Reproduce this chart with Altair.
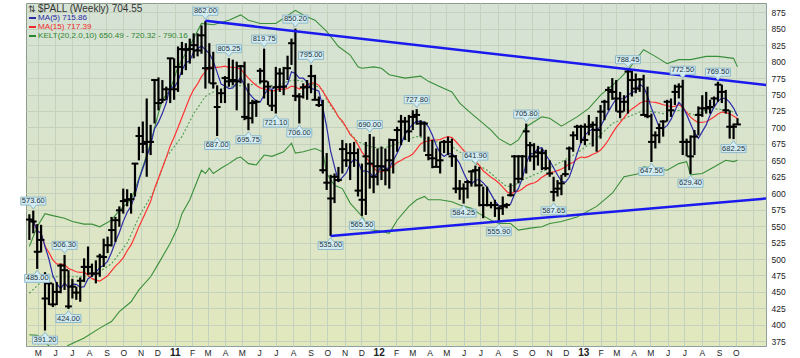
import altair as alt
import pandas as pd

# ---------------- data ----------------
START = "2010-04-16"          # first weekly bar
high = [
    568, 573.6, 553, 552, 480, 465, 463, 465, 493, 506.3,
    483, 470, 458, 472, 501, 519, 493, 498, 508, 531,
    534, 564, 564, 580, 607, 606, 600, 646, 701, 709,
    744, 704, 773, 776, 772, 762, 805, 805, 823, 830,
    828, 835, 843, 843, 855, 862, 828, 815, 764, 759,
    778, 805.25, 803, 800, 795, 800, 767, 742, 742, 790,
    819.75, 770, 757, 792, 790, 792, 809, 835, 850.2, 752,
    767, 772, 795, 780, 747, 742, 661, 628, 630, 640,
    681, 676, 676, 678, 668, 645, 678, 690, 686, 668,
    671, 668, 683, 681, 701, 719, 716, 719, 726, 727.8,
    711, 709, 686, 681, 668, 678, 681, 686, 683, 658,
    620, 615, 620, 635, 641.9, 640, 610, 610, 587, 590,
    580, 595, 585, 615, 658, 658, 658, 705.8, 678, 676,
    672, 668, 666, 650, 625, 620, 628, 650, 671, 694,
    704, 704, 706, 719, 709, 716, 734, 742, 762, 775,
    772, 754, 749, 788.45, 787, 782, 775, 780, 762, 721,
    694, 706, 711, 742, 744, 765, 767, 772.5, 683, 688,
    696, 732, 749, 754, 742, 747, 769.5, 765, 757, 726,
    706, 714,
]
low = [
    529, 539, 485, 510, 391.2, 430, 427, 430, 448, 453,
    424, 440, 438, 435, 465, 476, 473, 463, 473, 488,
    509, 519, 526, 549, 569, 580, 569, 595, 650, 661,
    625, 658, 706, 726, 737, 742, 737, 742, 754, 780,
    787, 797, 805, 808, 812, 759, 767, 759, 687, 737,
    737, 762, 764, 726, 767, 711, 695.75, 706, 716, 767,
    744, 734, 725, 721.1, 754, 749, 772, 795, 740, 706,
    744, 742, 752, 742, 731, 630, 605, 535, 585, 617,
    630, 640, 620, 640, 595, 565.5, 567, 607, 600, 612,
    620, 612, 607, 630, 663, 673, 681, 678, 696, 704,
    686, 663, 650, 638, 640, 630, 661, 658, 640, 600,
    590, 584.25, 592, 610, 610, 580, 562, 580, 577, 564,
    555.9, 567, 577, 595, 602, 615, 620, 630, 648, 635,
    642, 635, 635, 625, 587.65, 595, 597, 625, 635, 663,
    681, 676, 673, 688, 671, 663, 683, 711, 726, 742,
    724, 714, 724, 721, 747, 752, 754, 719, 714, 647.5,
    668, 676, 686, 709, 716, 734, 744, 658, 656, 629.4,
    658, 688, 716, 721, 721, 732, 739, 737, 721, 683,
    682.25, 704,
]
close = [
    560, 557, 511, 529, 440, 463, 431, 450, 490, 483,
    428, 458, 449, 467, 488, 488, 478, 478, 504, 503,
    521, 544, 559, 574, 588, 590, 591, 645, 687, 675,
    678, 678, 772, 737, 742, 758, 805, 758, 792, 819,
    818, 819, 825, 817, 840, 790, 790, 767, 731, 752,
    775, 770, 772, 770, 793, 716, 714, 737, 739, 786,
    770, 762, 733, 761, 782, 762, 790, 828, 748, 747,
    761, 761, 778, 742, 734, 635, 616, 592, 625, 620,
    667, 650, 661, 661, 604, 590, 656, 645, 625, 641,
    641, 635, 650, 681, 696, 709, 709, 694, 716, 719,
    706, 706, 658, 653, 640, 650, 678, 678, 656, 607,
    607, 607, 617, 633, 635, 612, 582, 582, 582, 582,
    577, 580, 582, 597, 656, 622, 656, 694, 673, 656,
    662, 661, 638, 630, 602, 607, 615, 629, 668, 688,
    701, 701, 681, 701, 704, 696, 724, 739, 757, 754,
    744, 724, 739, 785, 772, 759, 773, 719, 717, 678,
    688, 699, 709, 739, 726, 754, 762, 678, 678, 656,
    686, 719, 729, 729, 731, 744, 765, 754, 726, 701,
    701, 704.55,
]
assert len(high) == len(low) == len(close)

# Keltner channel (week number, price)
kelt_up_week = [0, 2, 4, 6, 9, 11, 14, 16, 18, 21, 23, 26, 27, 29, 31, 33, 34, 36, 38, 40,
                42, 44, 47, 51, 54, 56, 59, 63, 65, 68, 70, 73, 76, 79, 82, 84, 85, 88, 90, 92,
                96, 100, 102, 105, 108, 110, 113, 115, 118, 120, 123, 125, 127, 131, 133, 136, 140, 143, 146, 149,
                151, 153, 157, 160, 163, 166, 169, 173, 176, 180, 181]
kelt_up = [519, 549, 569, 566, 562, 557, 553, 553, 549, 559, 574, 590, 605, 640, 676, 722, 742, 757, 792, 813,
           835, 858, 856, 863, 871, 863, 858, 858, 866, 878, 871, 863, 846, 823, 810, 792, 790, 792, 790, 780,
           775, 778, 770, 762, 754, 737, 721, 711, 696, 683, 673, 681, 701, 716, 714, 702, 716, 729, 749, 764,
           775, 787, 818, 808, 797, 803, 803, 808, 808, 805, 792]
kelt_lo_week = [0, 2, 3, 5, 7, 9, 10, 14, 18, 21, 23, 26, 28, 31, 33, 36, 38, 39, 41, 43,
                44, 45, 46, 47, 49, 51, 53, 54, 56, 58, 60, 62, 65, 67, 68, 70, 73, 75, 76, 78,
                80, 82, 85, 87, 90, 92, 94, 97, 99, 101, 102, 105, 108, 110, 113, 115, 118, 120, 123, 125,
                128, 131, 133, 136, 140, 145, 149, 152, 156, 157, 160, 163, 166, 168, 169, 172, 175, 178, 180, 181]
kelt_lo = [385, 384, 380, 368, 362, 364, 369, 380, 395, 405, 420, 435, 453, 473, 493, 524, 549, 569, 590, 620,
           635, 630, 638, 630, 638, 645, 653, 655, 645, 643, 658, 656, 663, 676, 661, 663, 668, 663, 630, 612,
           607, 585, 565, 545, 542, 539, 559, 580, 590, 595, 590, 590, 587, 582, 577, 569, 559, 554, 554, 544,
           547, 549, 554, 557, 564, 580, 600, 625, 630, 640, 638, 635, 645, 648, 628, 630, 640, 650, 648, 650]
kelt_mid_week = [0, 3, 6, 15, 18, 21, 25, 28, 32, 35, 39, 42, 45, 47, 51, 55, 60, 63, 66, 68,
                 70, 73, 75, 76, 79, 82, 84, 87, 90, 92, 96, 99, 102, 104, 107, 109, 112, 114, 117, 120,
                 122, 124, 126, 129, 131, 133, 136, 140, 145, 149, 153, 157, 162, 166, 170, 174, 179, 181]
kelt_mid = [448, 465, 473, 473, 481, 493, 524, 564, 605, 655, 686, 721, 747, 754, 762, 764, 767, 762, 770, 772,
            770, 764, 757, 742, 716, 691, 678, 671, 668, 671, 681, 686, 683, 678, 678, 666, 656, 645, 635, 620,
            610, 612, 620, 628, 633, 638, 648, 661, 683, 706, 716, 726, 721, 726, 719, 729, 726, 720]

# trend lines (date, price)
trend_up_date = ["2011-02-25", "2013-11-24"]
trend_up = [862.0, 764.4]
trend_lo_date = ["2011-10-07", "2013-11-24"]
trend_lo = [535.0, 592.0]

# annotated swing points (week number, price)
ann_hi_week = [1, 9, 45, 51, 60, 68, 72, 87, 99, 114, 127, 153, 167, 176]
ann_hi = [573.6, 506.3, 862.0, 805.25, 819.75, 850.2, 795.0, 690.0, 727.8, 641.9, 705.8, 788.45, 772.5, 769.5]
ann_lo_week = [2, 4, 10, 48, 56, 63, 69, 77, 85, 111, 120, 134, 159, 169, 180]
ann_lo = [485.0, 391.2, 424.0, 687.0, 695.75, 721.1, 706.0, 535.0, 565.5, 584.25, 555.9, 587.65, 647.5, 629.4, 682.25]

y_ticks = [375, 400, 425, 450, 475, 500, 525, 550, 575, 600, 625, 650, 675, 700, 725, 750, 775, 800, 825, 850, 875]

legend_lines = ["$PALL (Weekly) 704.55", "MA(5) 715.86", "MA(15) 717.39",
                "KELT(20,2.0,10) 650.49 - 720.32 - 790.16"]
legend_colors = ["#333333", "#2b2ba6", "#ee2b2b", "#2f852f"]

# ---------------- frames ----------------
start = pd.Timestamp(START)


def wk(i):
    return start + pd.Timedelta(days=7 * i)


bars = pd.DataFrame({"date": [wk(i) for i in range(len(close))],
                     "high": high, "low": low, "close": close})
up_df = pd.DataFrame({"date": [wk(i) for i in kelt_up_week], "value": kelt_up})
lo_df = pd.DataFrame({"date": [wk(i) for i in kelt_lo_week], "value": kelt_lo})
mid_df = pd.DataFrame({"date": [wk(i) for i in kelt_mid_week], "value": kelt_mid})
tu_df = pd.DataFrame({"date": pd.to_datetime(trend_up_date), "value": trend_up})
tl_df = pd.DataFrame({"date": pd.to_datetime(trend_lo_date), "value": trend_lo})
ah_df = pd.DataFrame({"date": [wk(i) for i in ann_hi_week], "value": ann_hi,
                      "label": [f"{v:.2f}" for v in ann_hi]})
al_df = pd.DataFrame({"date": [wk(i) for i in ann_lo_week], "value": ann_lo,
                      "label": [f"{v:.2f}" for v in ann_lo]})

# ---------------- encodings ----------------
FONT = "Liberation Sans"
GRID = "#c4d1bd"
X_DOMAIN = [alt.DateTime(year=2010, month=4, date=10), alt.DateTime(year=2013, month=11, date=24)]
YEAR_TEST = "month(datum.value) == 0"

x_axis = alt.Axis(
    title=None, orient="bottom",
    tickCount=alt.TimeIntervalStep(interval="month", step=1),
    labelExpr=("datum.value > datetime(2013, 9, 20) ? '' : "
               "(month(datum.value) == 0 ? timeFormat(datum.value, '%y') : "
               "slice(timeFormat(datum.value, '%b'), 0, 1))"),
    labelFont=FONT,
    labelFontSize={"condition": {"test": YEAR_TEST, "value": 10}, "value": 8.5},
    labelFontWeight={"condition": {"test": YEAR_TEST, "value": "bold"}, "value": "normal"},
    labelColor="#222222", ticks=False, tickSize=0, labelPadding=6,
    labelBaseline="middle", labelOverlap=False, labelFlush=False,
    grid=True, gridColor=GRID, gridWidth=1,
    domainColor="#8fa7b5", domainDash=[1, 1],
)
y_axis = alt.Axis(
    title=None, orient="right", values=y_ticks, labelFont=FONT, labelFontSize=8.5,
    labelColor="#222222", ticks=False, tickSize=0, labelPadding=5,
    grid=True, gridColor=GRID, gridWidth=1, domainColor="#8fa7b5", domainDash=[1, 1],
)


def X():
    return alt.X("date:T", scale=alt.Scale(domain=X_DOMAIN), axis=x_axis)


def Y(field):
    return alt.Y(f"{field}:Q", scale=alt.Scale(domain=[367.8, 889.1], nice=False, zero=False), axis=y_axis)


KGREEN = "#3a8f3a"
kel_up = alt.Chart(up_df).mark_line(color=KGREEN, strokeWidth=1.1, clip=True).encode(x=X(), y=Y("value"))
kel_lo = alt.Chart(lo_df).mark_line(color=KGREEN, strokeWidth=1.1, clip=True).encode(x=X(), y=Y("value"))
kel_mid = alt.Chart(mid_df).mark_line(color="#4f9d4f", strokeWidth=1.1, strokeDash=[2, 2], clip=True).encode(
    x=X(), y=Y("value"))

ma_base = alt.Chart(bars).transform_window(
    ma5="mean(close)", frame=[-4, 0], sort=[alt.SortField("date")]
).transform_window(
    ma15="mean(close)", frame=[-14, 0], sort=[alt.SortField("date")]
)
ma15_line = ma_base.mark_line(color="#ff3333", strokeWidth=1.2, clip=True).encode(x=X(), y=Y("ma15"))
ma5_line = ma_base.mark_line(color="#2b2ba6", strokeWidth=1.2, clip=True).encode(x=X(), y=Y("ma5"))

hl = alt.Chart(bars).mark_rule(color="black", strokeWidth=2.2, clip=True).encode(
    x=X(), y=Y("low"), y2=alt.Y2("high"))
ct = alt.Chart(bars).mark_point(shape="M-1,0L1,0", size=46, filled=False, strokeWidth=2,
                                color="black", opacity=1, clip=True).encode(x=X(), y=Y("close"))

TBLUE = "#1a1aee"
t_up = alt.Chart(tu_df).mark_line(color=TBLUE, strokeWidth=2.5, clip=True).encode(x=X(), y=Y("value"))
t_lo = alt.Chart(tl_df).mark_line(color=TBLUE, strokeWidth=2.5, clip=True).encode(x=X(), y=Y("value"))

BOX_FILL = "#d3ecf2"
BOX_STROKE = "#8fb9c9"
PATH_HI = "M-1,-0.32L1,-0.32L1,0.32L0.24,0.32L0,0.64L-0.24,0.32L-1,0.32Z"
PATH_LO = "M-1,-0.32L-0.24,-0.32L0,-0.64L0.24,-0.32L1,-0.32L1,0.32L-1,0.32Z"
hi_box = alt.Chart(ah_df).mark_point(shape=PATH_HI, size=625, filled=True, fill=BOX_FILL, stroke=BOX_STROKE,
                                     strokeWidth=1, opacity=1, yOffset=-9.5).encode(x=X(), y=Y("value"))
hi_txt = alt.Chart(ah_df).mark_text(font=FONT, fontSize=7.5, color="#1d3340", dy=-9.5,
                                    baseline="middle").encode(x=X(), y=Y("value"), text="label:N")
lo_box = alt.Chart(al_df).mark_point(shape=PATH_LO, size=625, filled=True, fill=BOX_FILL, stroke=BOX_STROKE,
                                     strokeWidth=1, opacity=1, yOffset=9.5).encode(x=X(), y=Y("value"))
lo_txt = alt.Chart(al_df).mark_text(font=FONT, fontSize=7.5, color="#1d3340", dy=9.5,
                                    baseline="middle").encode(x=X(), y=Y("value"), text="label:N")

# legend block (top-left of the plot)
legend_layers = []
legend_y = [6, 15, 24, 33]
for k, (txt, col) in enumerate(zip(legend_lines, legend_colors)):
    d = pd.DataFrame({"t": [txt]})
    size = 10 if k == 0 else 8.1
    legend_layers.append(
        alt.Chart(d).mark_text(font=FONT, fontSize=size, color=col, align="left", baseline="middle").encode(
            x=alt.value(12), y=alt.value(legend_y[k]), text="t:N"))
    if k > 0:
        legend_layers.append(
            alt.Chart(d).mark_rule(color=col, strokeWidth=2).encode(
                x=alt.value(3), x2=alt.value(10), y=alt.value(legend_y[k])))
icon = alt.Chart(pd.DataFrame({"t": ["\u21c5"]})).mark_text(
    font="DejaVu Sans", fontSize=9, color="#333333", align="left", baseline="middle").encode(
    x=alt.value(2), y=alt.value(legend_y[0]), text="t:N")

bg_expr = ("{gradient: 'linear', x1: 0, y1: 0, x2: 0, y2: 1, stops: ["
           "{offset: 0, color: '#d5e2d5'}, {offset: 0.55, color: '#dbe4c9'}, {offset: 1, color: '#e2e8bd'}]}")

chart = alt.layer(
    kel_up, kel_lo, kel_mid, ma15_line, ma5_line, hl, ct, t_up, t_lo,
    hi_box, hi_txt, lo_box, lo_txt, icon, *legend_layers
).properties(
    width=740, height=343,
    padding={"left": 26, "top": 3, "right": 34, "bottom": 12},
    autosize=alt.AutoSizeParams(type="none"),
    background="white",
).configure_view(
    fill=alt.ExprRef(expr=bg_expr), stroke="#8c9c8c", strokeWidth=1,
)

chart.save("out.html", embed_options={"renderer": "svg", "actions": False})
